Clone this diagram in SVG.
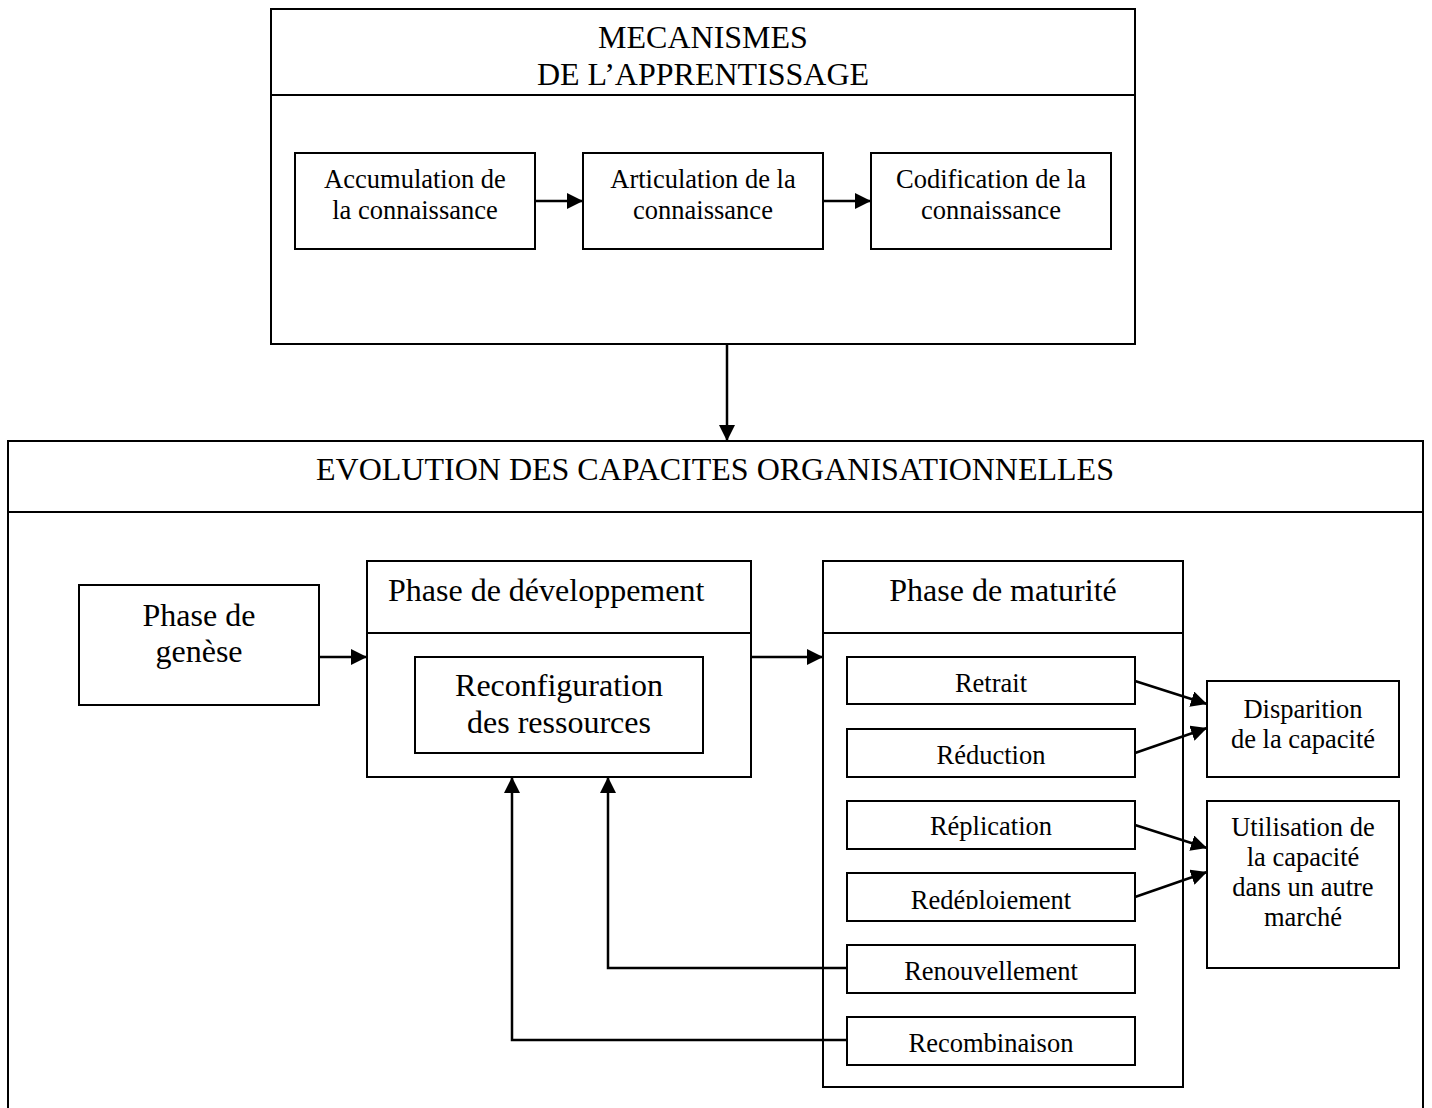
<svg xmlns="http://www.w3.org/2000/svg" width="1432" height="1108" viewBox="0 0 1432 1108">
<style>
  .box { fill: #fff; stroke: #000; stroke-width: 2; }
  .div { stroke: #000; stroke-width: 2; fill: none; }
  .t32 { font-family: "Liberation Serif", "Times New Roman", serif; font-size: 32px; fill: #000; text-anchor: middle; }
  .t26 { font-family: "Liberation Serif", "Times New Roman", serif; font-size: 26.5px; fill: #000; text-anchor: middle; }
  .conn { stroke: #000; stroke-width: 2.5; fill: none; marker-end: url(#arrow); }
</style>
<defs>
  <marker id="arrow" viewBox="0 0 16 16" refX="16" refY="8" markerWidth="16" markerHeight="16" markerUnits="userSpaceOnUse" orient="auto">
    <path d="M0,0 L16,8 L0,16 Z" fill="#000"/>
  </marker>
  <clipPath id="clipRedep">
    <rect x="847" y="873" width="288" height="36"/>
  </clipPath>
</defs>
<rect width="1432" height="1108" fill="#fff"/>

<g id="mecanismes">
  <rect class="box" x="271" y="9" width="864" height="335"/>
  <line class="div" x1="271" y1="95" x2="1135" y2="95"/>
  <text class="t32" x="703" y="48">MECANISMES</text>
  <text class="t32" x="703" y="85">DE L’APPRENTISSAGE</text>
</g>
<g id="accumulation">
  <rect class="box" x="295" y="153" width="240" height="96"/>
  <text class="t26" x="415" y="188">Accumulation de</text>
  <text class="t26" x="415" y="219">la connaissance</text>
</g>
<g id="articulation">
  <rect class="box" x="583" y="153" width="240" height="96"/>
  <text class="t26" x="703" y="188">Articulation de la</text>
  <text class="t26" x="703" y="219">connaissance</text>
</g>
<g id="codification">
  <rect class="box" x="871" y="153" width="240" height="96"/>
  <text class="t26" x="991" y="188">Codification de la</text>
  <text class="t26" x="991" y="219">connaissance</text>
</g>

<g id="evolution">
  <rect class="box" x="8" y="441" width="1415" height="700"/>
  <line class="div" x1="8" y1="512" x2="1423" y2="512"/>
  <text class="t32" x="715" y="480">EVOLUTION DES CAPACITES ORGANISATIONNELLES</text>
</g>
<g id="genese">
  <rect class="box" x="79" y="585" width="240" height="120"/>
  <text class="t32" x="199" y="626">Phase de</text>
  <text class="t32" x="199" y="662">genèse</text>
</g>
<g id="developpement">
  <rect class="box" x="367" y="561" width="384" height="216"/>
  <line class="div" x1="367" y1="633" x2="751" y2="633"/>
  <text class="t32" x="388" y="601" style="text-anchor:start">Phase de développement</text>
</g>
<g id="reconfiguration">
  <rect class="box" x="415" y="657" width="288" height="96"/>
  <text class="t32" x="559" y="696">Reconfiguration</text>
  <text class="t32" x="559" y="733">des ressources</text>
</g>
<g id="maturite">
  <rect class="box" x="823" y="561" width="360" height="526"/>
  <line class="div" x1="823" y1="633" x2="1183" y2="633"/>
  <text class="t32" x="1003" y="601">Phase de maturité</text>
</g>
<g id="retrait">
  <rect class="box" x="847" y="657" width="288" height="47"/>
  <text class="t26" x="991" y="692">Retrait</text>
</g>
<g id="reduction">
  <rect class="box" x="847" y="729" width="288" height="48"/>
  <text class="t26" x="991" y="764">Réduction</text>
</g>
<g id="replication">
  <rect class="box" x="847" y="801" width="288" height="48"/>
  <text class="t26" x="991" y="835">Réplication</text>
</g>
<g id="redeploiement">
  <rect class="box" x="847" y="873" width="288" height="48"/>
  <text class="t26" x="991" y="909" clip-path="url(#clipRedep)">Redéploiement</text>
</g>
<g id="renouvellement">
  <rect class="box" x="847" y="945" width="288" height="48"/>
  <text class="t26" x="991" y="980">Renouvellement</text>
</g>
<g id="recombinaison">
  <rect class="box" x="847" y="1017" width="288" height="48"/>
  <text class="t26" x="991" y="1052">Recombinaison</text>
</g>
<g id="disparition">
  <rect class="box" x="1207" y="681" width="192" height="96"/>
  <text class="t26" x="1303" y="718">Disparition</text>
  <text class="t26" x="1303" y="748">de la capacité</text>
</g>
<g id="utilisation">
  <rect class="box" x="1207" y="801" width="192" height="167"/>
  <text class="t26" x="1303" y="836">Utilisation de</text>
  <text class="t26" x="1303" y="866">la capacité</text>
  <text class="t26" x="1303" y="896">dans un autre</text>
  <text class="t26" x="1303" y="926">marché</text>
</g>

<g id="connectors">
  <line class="conn" x1="535" y1="201" x2="583" y2="201"/>
  <line class="conn" x1="823" y1="201" x2="871" y2="201"/>
  <line class="conn" x1="727" y1="344" x2="727" y2="441"/>
  <line class="conn" x1="319" y1="657" x2="367" y2="657"/>
  <line class="conn" x1="751" y1="657" x2="823" y2="657"/>
  <line class="conn" x1="1135" y1="681" x2="1207" y2="704"/>
  <line class="conn" x1="1135" y1="753" x2="1207" y2="728"/>
  <line class="conn" x1="1135" y1="825" x2="1207" y2="848"/>
  <line class="conn" x1="1135" y1="897" x2="1207" y2="872"/>
  <polyline class="conn" points="847,968 608,968 608,777"/>
  <polyline class="conn" points="847,1040 512,1040 512,777"/>
</g>
</svg>
